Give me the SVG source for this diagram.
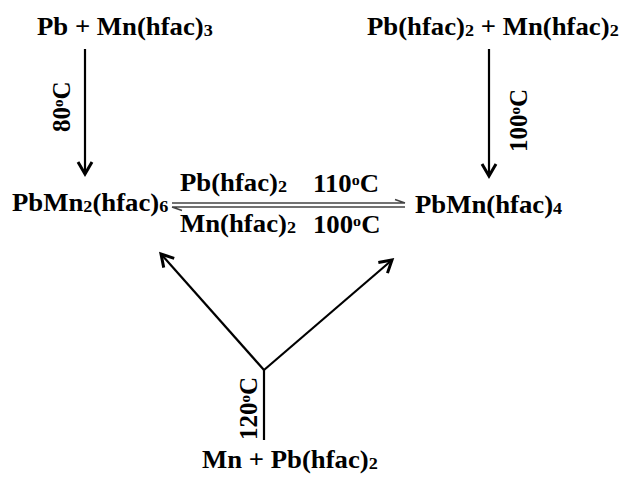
<svg xmlns="http://www.w3.org/2000/svg" width="622" height="479" viewBox="0 0 622 479">
  <style>
    .t { font-family: "Liberation Serif", "Times New Roman", serif; font-weight: bold; font-size: 25px; fill: #000; }
    .sub { font-size: 17px; }
    .sup { font-size: 15px; }
    .ln { stroke: #000; stroke-width: 2.2; fill: none; }
    .eq { stroke: #444; stroke-width: 1.6; fill: none; }
  </style>
  <defs>
    <marker id="head" markerUnits="userSpaceOnUse" markerWidth="24" markerHeight="24" refX="0" refY="0" viewBox="-16 -12 20 24" orient="auto">
      <path d="M-12,-7 L0,0 L-12,7" stroke="#000" stroke-width="3" fill="none" stroke-linejoin="miter"/>
    </marker>
  </defs>
  <rect width="622" height="479" fill="#fff"/>

  <!-- connectors -->
  <g id="connectors">
    <line class="ln" x1="85" y1="49" x2="85" y2="174" marker-end="url(#head)"/>
    <line class="ln" x1="489" y1="49" x2="489" y2="176" marker-end="url(#head)"/>
    <!-- equilibrium harpoons -->
    <path class="eq" d="M172,203 H405 M405,203 L395,199.5"/>
    <path class="eq" d="M172,207 H405 M172,207 L182,210.5"/>
    <!-- forked arrow from the bottom reactants -->
    <line class="ln" x1="264" y1="440" x2="264" y2="370"/>
    <line class="ln" x1="264" y1="370" x2="161" y2="254" marker-end="url(#head)"/>
    <line class="ln" x1="264" y1="370" x2="392" y2="260" marker-end="url(#head)"/>
  </g>

  <!-- nodes -->
  <g id="node-pb-mnhfac3">
    <text class="t" transform="translate(37,35) scale(1.07,1)">Pb + Mn(hfac)<tspan class="sub" dy="1">3</tspan></text>
  </g>
  <g id="node-pbhfac2-mnhfac2">
    <text class="t" transform="translate(367,35) scale(1.07,1)">Pb(hfac)<tspan class="sub" dy="1">2</tspan><tspan dy="-1"> + Mn(hfac)</tspan><tspan class="sub" dy="1">2</tspan></text>
  </g>
  <g id="node-pbmn2hfac6">
    <text class="t" transform="translate(12,211) scale(1.07,1)">PbMn<tspan class="sub" dy="1">2</tspan><tspan dy="-1">(hfac)</tspan><tspan class="sub" dy="1">6</tspan></text>
  </g>
  <g id="node-pbmnhfac4">
    <text class="t" transform="translate(415,213) scale(1.07,1)">PbMn(hfac)<tspan class="sub" dy="1">4</tspan></text>
  </g>
  <g id="node-mn-pbhfac2">
    <text class="t" transform="translate(202,468) scale(1.07,1)">Mn + Pb(hfac)<tspan class="sub" dy="1">2</tspan></text>
  </g>

  <!-- labels on the equilibrium -->
  <g id="label-top-reagent">
    <text class="t" transform="translate(180,191) scale(1.07,1)">Pb(hfac)<tspan class="sub" dy="1">2</tspan></text>
  </g>
  <g id="label-top-temp">
    <text class="t" transform="translate(313,192) scale(1.07,1)">110<tspan class="sup" dy="-7">o</tspan><tspan dy="7">C</tspan></text>
  </g>
  <g id="label-bottom-reagent">
    <text class="t" transform="translate(180,232) scale(1.07,1)">Mn(hfac)<tspan class="sub" dy="1">2</tspan></text>
  </g>
  <g id="label-bottom-temp">
    <text class="t" transform="translate(313,233) scale(1.07,1)">100<tspan class="sup" dy="-7">o</tspan><tspan dy="7">C</tspan></text>
  </g>

  <!-- rotated temperature labels -->
  <g id="label-80">
    <text class="t" transform="translate(70,132) rotate(-90)">80<tspan class="sup" dy="-7">o</tspan><tspan dy="7">C</tspan></text>
  </g>
  <g id="label-100">
    <text class="t" transform="translate(527,152) rotate(-90)">100<tspan class="sup" dy="-7">o</tspan><tspan dy="7">C</tspan></text>
  </g>
  <g id="label-120">
    <text class="t" transform="translate(257,440) rotate(-90)">120<tspan class="sup" dy="-7">o</tspan><tspan dy="7">C</tspan></text>
  </g>
</svg>
